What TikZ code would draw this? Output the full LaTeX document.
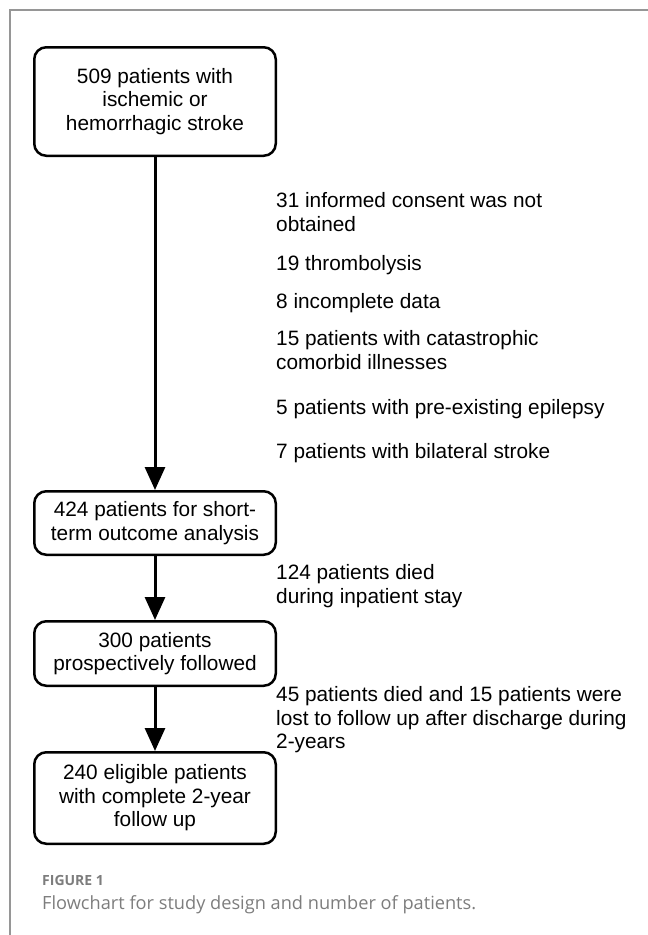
\documentclass[tikz,border=0pt]{standalone}
\usepackage{fontspec}
\setmainfont{Liberation Sans}
\newfontfamily\capfont{Open Sans}
\usepackage{tikz}
\usetikzlibrary{arrows,arrows.meta,shapes,positioning}
\definecolor{capgray}{RGB}{125,125,125}
\definecolor{framegray}{RGB}{150,150,150}

\begin{document}
\begin{tikzpicture}[x=1pt,y=-1pt]\tikzstyle{every node}=[font=\fontsize{20.8}{23.5}\selectfont]
\tikzstyle{stage}=[draw, line width=2.5pt, rounded corners=12pt, minimum width=241.5pt, align=center, inner sep=0pt]
\tikzstyle{excl}=[anchor=north west, align=left, inner sep=0pt]
\tikzstyle{flow}=[line width=3pt, -{Triangle[length=23pt,width=20pt]}]
\useasboundingbox (0,0) rectangle (648,935);
%frame of the figure panel
\draw[line width=2pt, color=framegray] (10,935) -- (10,10) -- (648,10);
%stages of the study
\node[stage, minimum height=108.5pt] (509) at (155,101.5) {509 patients with\\ischemic or\\hemorrhagic stroke};
\node[stage, minimum height=63.5pt] (424) at (155,523) {424 patients for short-\\term outcome analysis};
\node[stage, minimum height=64.5pt] (300) at (155,653.5) {300 patients\\prospectively followed};
\node[stage, minimum height=91.5pt] (240) at (155,798) {240 eligible patients\\with complete 2-year\\follow up};
\draw[flow] (509) -- (424);
\draw[flow] (424) -- (300);
\draw[flow] (300) -- (240);
%excluded between 509 and 424
\node[excl] (31) at (276,192.5) {31 informed consent was not\\obtained};
\node[excl] (19) at (276,255.5) {19 thrombolysis};
\node[excl] (8) at (276,293.5) {8 incomplete data};
\node[excl] (15) at (276,330.5) {15 patients with catastrophic\\comorbid illnesses};
\node[excl] (5) at (276,399.5) {5 patients with pre-existing epilepsy};
\node[excl] (7) at (276,443.5) {7 patients with bilateral stroke};
%losses during follow up
\node[excl] (124) at (276,564.5) {124 patients died\\during inpatient stay};
\node[excl] (45) at (276,686.5) {45 patients died and 15 patients were\\lost to follow up after discharge during\\2-years};
%caption
\node[anchor=base west, inner sep=0pt, font=\capfont\bfseries\fontsize{14}{17}\selectfont, text=capgray] (fig1) at (42,885) {FIGURE 1};
\node[anchor=base west, inner sep=0pt, font=\capfont\fontsize{18.2}{22}\selectfont, text=capgray] (caption) at (42,909) {Flowchart for study design and number of patients.};
\end{tikzpicture}
\end{document}
